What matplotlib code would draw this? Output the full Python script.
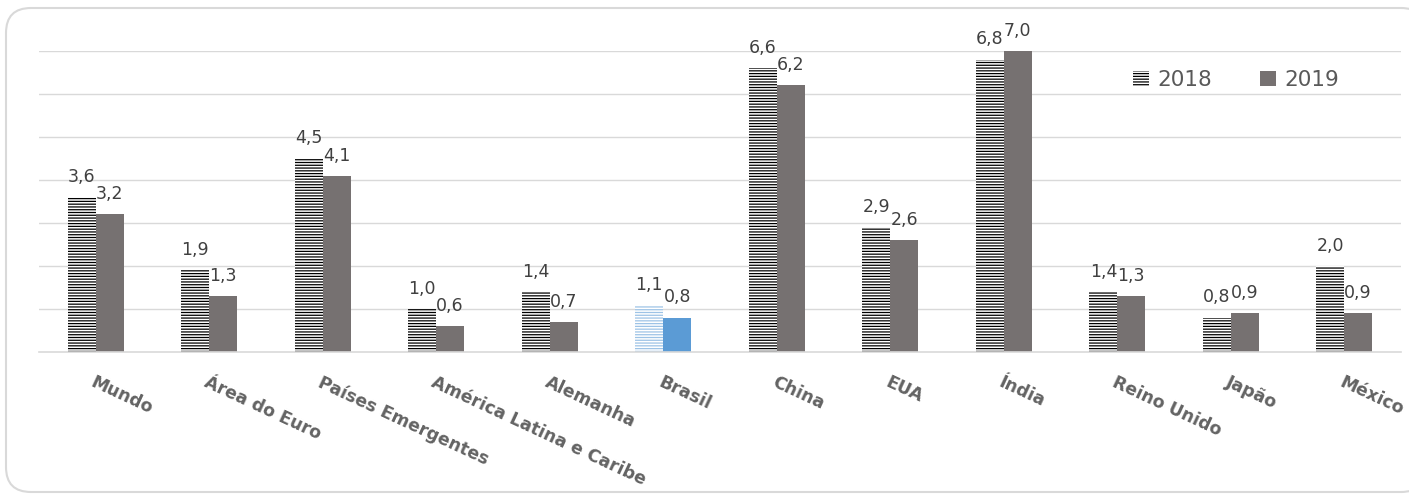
import numpy as np
import matplotlib
matplotlib.use('Agg')
import matplotlib.pyplot as plt
from matplotlib.patches import FancyBboxPatch
from matplotlib.transforms import IdentityTransform

# %%

categorias = ['Mundo', 'Área do Euro', 'Países Emergentes', 'América Latina e Caribe',
              'Alemanha', 'Brasil', 'China', 'EUA', 'Índia', 'Reino Unido', 'Japão', 'México']
v2018 = [3.6, 1.9, 4.5, 1.0, 1.4, 1.1, 6.6, 2.9, 6.8, 1.4, 0.8, 2.0]
v2019 = [3.2, 1.3, 4.1, 0.6, 0.7, 0.8, 6.2, 2.6, 7.0, 1.3, 0.9, 0.9]
destaque = 'Brasil'

# %%

plt.rcParams['hatch.linewidth'] = 0.9
texto = '#595959'

fig = plt.figure(figsize=(14.09, 4.96), dpi=100)
ax = fig.add_axes([39 / 1409, 144 / 496, 1362 / 1409, 301 / 496])

# Moldura arredondada
moldura = FancyBboxPatch((6, 4), 1420, 484, boxstyle='round,pad=0,rounding_size=25',
                         transform=IdentityTransform(), facecolor='white',
                         edgecolor='#D9D9D9', linewidth=1.5, zorder=-10)
fig.patches.append(moldura)

x = np.arange(len(categorias))
w = 0.245

cor18 = ['#9DC3E6' if c == destaque else 'black' for c in categorias]
cor19 = ['#5B9BD5' if c == destaque else '#767171' for c in categorias]

b18 = ax.bar(x - w / 2, v2018, w, color='white', edgecolor=cor18,
             hatch='------', linewidth=0, label='2018')
b19 = ax.bar(x + w / 2, v2019, w, color=cor19, linewidth=0, label='2019')

# Rótulos de dados
for xs, vals in [(x - w / 2, v2018), (x + w / 2, v2019)]:
    for xi, v in zip(xs, vals):
        ax.annotate(f'{v:.1f}'.replace('.', ','), (xi, v), xytext=(0, 8),
                    textcoords='offset points', ha='center', va='bottom',
                    fontsize=12.5, color='#404040', clip_on=False)

ax.set_xlim(-0.5, len(categorias) - 0.5)
ax.set_ylim(0, 7.0001)
ax.set_yticks(np.arange(1, 8))
ax.set_yticklabels([])
ax.tick_params(axis='y', length=0)
ax.grid(axis='y', color='#D9D9D9', linewidth=1)
ax.set_axisbelow(True)
for s in ['top', 'right', 'left']:
    ax.spines[s].set_visible(False)
ax.spines['bottom'].set_color('#D9D9D9')
ax.spines['bottom'].set_linewidth(1.2)

ax.set_xticks(x)
ax.set_xticklabels(categorias, rotation=-25, ha='left', rotation_mode='anchor',
                   fontsize=12.5, fontweight='bold', color='#636363')
ax.tick_params(axis='x', length=0, pad=15)

ax.legend(loc='center left', bbox_to_anchor=(1122 / 1409, 1 - 80 / 496),
          bbox_transform=fig.transFigure, ncol=2, frameon=False, fontsize=15.5,
          handlelength=0.75, handleheight=0.75, handletextpad=0.4,
          columnspacing=2.2, borderpad=0, labelcolor=texto)

plt.savefig('out.png', dpi=100)
